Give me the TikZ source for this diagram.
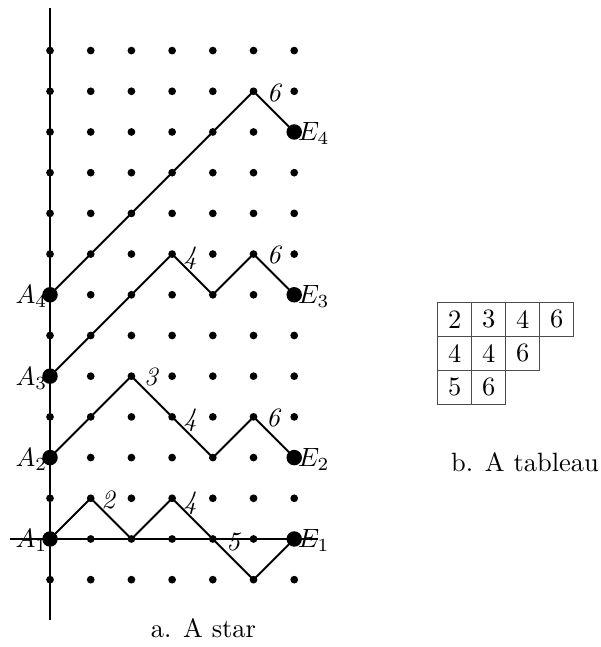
\documentclass[tikz,border=0pt]{standalone}
\newcommand\bigtxt[1]{\scalebox{1.85}{#1}}
\begin{document}
\begin{tikzpicture}[x=1cm,y=1cm,
  every node/.style={font=\fontsize{10}{12}\selectfont},
  gdot/.style={circle,fill=black,inner sep=0pt,minimum size=0.19cm},
  bigdot/.style={circle,fill=black,inner sep=0pt,minimum size=0.38cm},
  pathline/.style={line width=1.35pt,line join=miter},
  axisline/.style={line width=1.35pt},
  numlab/.style={inner sep=0pt,font=\fontsize{10}{12}\selectfont\itshape},
  cell/.style={draw=black!70,line width=0.6pt,minimum size=0.835cm,inner sep=0pt}]
\useasboundingbox (-1.229,-2.654) rectangle (13.514,13.243);
% axes
\coordinate (xl) at (-0.98,0);
\coordinate (xr) at (6.58,0);
\coordinate (yb) at (0,-1.99);
\coordinate (yt) at (0,13.05);
\draw[axisline] (xl) -- (xr);
\draw[axisline] (yb) -- (yt);
% grid dots
\foreach \i in {0,...,6}{
  \foreach \r in {0,...,13}{
    \node[gdot] (d\i-\r) at (\i,\r-1) {};
  }
}
% lattice paths
\draw[pathline] (d0-1.center) -- (d1-2.center) -- (d2-1.center) -- (d3-2.center) -- (d4-1.center) -- (d5-0.center) -- (d6-1.center);
\draw[pathline] (d0-3.center) -- (d1-4.center) -- (d2-5.center) -- (d3-4.center) -- (d4-3.center) -- (d5-4.center) -- (d6-3.center);
\draw[pathline] (d0-5.center) -- (d1-6.center) -- (d2-7.center) -- (d3-8.center) -- (d4-7.center) -- (d5-8.center) -- (d6-7.center);
\draw[pathline] (d0-7.center) -- (d1-8.center) -- (d2-9.center) -- (d3-10.center) -- (d4-11.center) -- (d5-12.center) -- (d6-11.center);
% start and end points
\node[bigdot] (A1) at (0,0) {};
\node[bigdot] (A2) at (0,2) {};
\node[bigdot] (A3) at (0,4) {};
\node[bigdot] (A4) at (0,6) {};
\node[bigdot] (E1) at (6,0) {};
\node[bigdot] (E2) at (6,2) {};
\node[bigdot] (E3) at (6,6) {};
\node[bigdot] (E4) at (6,10) {};
\foreach \k/\y in {1/0,2/2,3/4,4/6}{
  \node[anchor=base east,inner sep=0pt] (lA\k) at (-0.06,\y-0.22) {\bigtxt{$A_{\k}$}};
}
\foreach \k/\y in {1/0,2/2,3/6,4/10}{
  \node[anchor=base west,inner sep=0pt] (lE\k) at (6.09,\y-0.22) {\bigtxt{$E_{\k}$}};
}
% step labels
\node[numlab] (n1) at (1.43,0.96) {\bigtxt{2}};
\node[numlab] (n2) at (3.44,0.88) {\bigtxt{4}};
\node[numlab] (n3) at (4.50,-0.07) {\bigtxt{5}};
\node[numlab] (n4) at (2.48,3.98) {\bigtxt{3}};
\node[numlab] (n5) at (3.44,2.92) {\bigtxt{4}};
\node[numlab] (n6) at (5.48,2.97) {\bigtxt{6}};
\node[numlab] (n7) at (3.44,6.90) {\bigtxt{4}};
\node[numlab] (n8) at (5.50,6.98) {\bigtxt{6}};
\node[numlab] (n9) at (5.50,10.96) {\bigtxt{6}};
% tableau
\foreach \c/\r/\v in {0/0/2,1/0/3,2/0/4,3/0/6,0/1/4,1/1/4,2/1/6,0/2/5,1/2/6}{
  \node[cell] (t\r\c) at (9.944+0.835*\c,5.3985-0.835*\r) {\bigtxt{\v}};
}
% captions
\node[anchor=base,inner sep=0pt] (capa) at (3.77,-2.41) {\bigtxt{a. A star}};
\node[anchor=base,inner sep=0pt] (capb) at (11.67,1.646) {\bigtxt{b. A tableau}};
\end{tikzpicture}
\end{document}
